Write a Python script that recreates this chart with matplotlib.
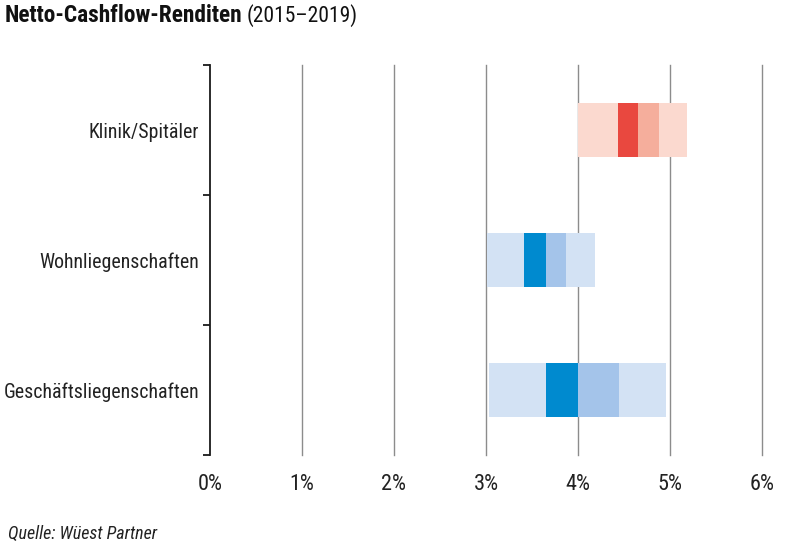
import matplotlib
matplotlib.use("Agg")
import matplotlib.pyplot as plt
from matplotlib.ticker import FixedLocator, FuncFormatter

plt.rcParams['font.family'] = ['Roboto Condensed', 'DejaVu Sans']

categories = ["Klinik/Spitäler", "Wohnliegenschaften", "Geschäftsliegenschaften"]
minimum = [4.00, 3.01, 3.03]
q1 = [4.43, 3.41, 3.65]
median = [4.65, 3.65, 4.00]
q3 = [4.88, 3.87, 4.45]
maximum = [5.19, 4.19, 4.96]
xticks = [0, 1, 2, 3, 4, 5, 6]

light = ["#FBD9CF", "#D3E2F4", "#D3E2F4"]
mid = ["#F5AE9C", "#A4C4EA", "#A4C4EA"]
dark = ["#E9483F", "#008ACF", "#008ACF"]

fig = plt.figure(figsize=(8, 5.56), dpi=100)
ax = fig.add_axes([210/800, 1 - 455/556, 552/800, 390/556])

ypos = list(range(len(categories)))
h = 0.41
for i in ypos:
    ax.barh(i, maximum[i] - minimum[i], left=minimum[i], height=h, color=light[i], zorder=2, linewidth=0)
    ax.barh(i, median[i] - q1[i], left=q1[i], height=h, color=dark[i], zorder=3, linewidth=0)
    ax.barh(i, q3[i] - median[i], left=median[i], height=h, color=mid[i], zorder=3, linewidth=0)

ax.set_xlim(0, 6)
ax.set_ylim(2.5, -0.5)

for x in xticks[1:]:
    ax.axvline(x, color="#8C8C8C", linewidth=1.0, zorder=1, clip_on=False)

for s in ["top", "right", "bottom"]:
    ax.spines[s].set_visible(False)
ax.spines["left"].set_color("#1a1a1a")
ax.spines["left"].set_linewidth(1.3)

ax.set_xticks(xticks)
ax.xaxis.set_major_formatter(FuncFormatter(lambda v, p: f"{int(v)}%"))
ax.tick_params(axis="x", length=0, pad=14, labelsize=16, labelcolor="#222222")

ax.set_yticks(ypos)
ax.set_yticklabels(categories)
ax.yaxis.set_minor_locator(FixedLocator([-0.5, 0.5, 1.5, 2.5]))
ax.tick_params(axis="y", which="major", length=0, pad=8, labelsize=14.3, labelcolor="#222222")
ax.tick_params(axis="y", which="minor", length=5, width=1.3, color="#1a1a1a")

title_y = 1 - 16/556
bold = fig.text(5/800, title_y, "Netto-Cashflow-Renditen", fontsize=16.8, fontweight="bold",
                va="center", ha="left", color="#111111")
fig.canvas.draw()
bb = bold.get_window_extent()
fig.text((bb.x1 + 4)/800, title_y, "(2015–2019)", fontsize=15.5, va="center", ha="left", color="#111111")

fig.text(8/800, 1 - 534/556, "Quelle: Wüest Partner", fontsize=13, fontstyle="italic",
         va="center", ha="left", color="#222222")

fig.savefig("out.png", dpi=100)
